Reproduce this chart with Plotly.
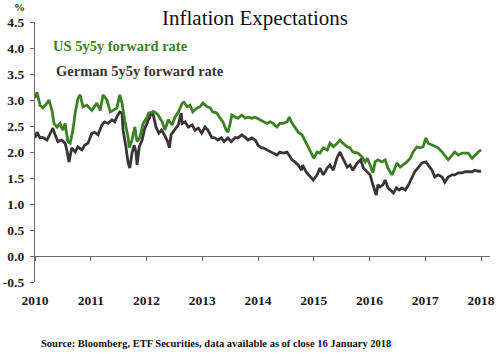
import plotly.graph_objects as go

# decimal-year positions and values
us_t = [2010.00, 2010.036, 2010.09, 2010.14, 2010.215, 2010.25, 2010.305, 2010.34, 2010.395, 2010.45,
        2010.50, 2010.54, 2010.59, 2010.63, 2010.68, 2010.72, 2010.77, 2010.81, 2010.86, 2010.93,
        2011.02, 2011.11, 2011.17, 2011.22, 2011.29, 2011.35, 2011.40, 2011.47, 2011.52, 2011.56,
        2011.61, 2011.67, 2011.69, 2011.74, 2011.79, 2011.83, 2011.88, 2011.94, 2012.01, 2012.04,
        2012.15, 2012.21, 2012.28, 2012.33, 2012.39, 2012.46, 2012.51, 2012.57, 2012.64, 2012.67,
        2012.73, 2012.78, 2012.83, 2012.91, 2012.96, 2013.01, 2013.09, 2013.14, 2013.19, 2013.26,
        2013.32, 2013.37, 2013.43, 2013.46, 2013.50, 2013.53, 2013.59, 2013.64, 2013.71, 2013.77,
        2013.82, 2013.89, 2013.95, 2014.04, 2014.09, 2014.16, 2014.22, 2014.27, 2014.34, 2014.39,
        2014.45, 2014.52, 2014.56, 2014.61, 2014.66, 2014.72, 2014.79, 2014.84, 2014.90, 2014.97,
        2015.00, 2015.06, 2015.11, 2015.17, 2015.24, 2015.29, 2015.35, 2015.42, 2015.47, 2015.52,
        2015.60, 2015.65, 2015.70, 2015.79, 2015.87, 2015.92, 2015.96, 2016.01, 2016.06, 2016.10,
        2016.15, 2016.22, 2016.28, 2016.33, 2016.40, 2016.44, 2016.49, 2016.55, 2016.60, 2016.67,
        2016.73, 2016.78, 2016.85, 2016.91, 2016.96, 2017.01, 2017.05, 2017.12, 2017.17, 2017.23,
        2017.30, 2017.35, 2017.41, 2017.48, 2017.53, 2017.59, 2017.66, 2017.71, 2017.77, 2017.84,
        2017.89, 2017.95, 2018.00]
us_v = [3.04, 3.15, 2.90, 2.85, 2.94, 3.00, 2.80, 2.55, 2.48, 2.55,
        2.42, 2.55, 2.20, 2.17, 2.42, 2.75, 3.03, 3.10, 2.87, 2.90,
        2.80, 2.94, 2.80, 3.10, 3.00, 2.77, 2.80, 2.85, 3.10, 2.94,
        2.60, 2.28, 2.08, 2.23, 2.48, 2.20, 2.28, 2.55, 2.67, 2.75,
        2.77, 2.71, 2.58, 2.42, 2.62, 2.52, 2.67, 2.77, 2.94, 2.96,
        2.87, 2.90, 2.77, 2.85, 2.87, 2.94, 2.87, 2.85, 2.77, 2.75,
        2.65, 2.58, 2.42, 2.38, 2.55, 2.71, 2.67, 2.65, 2.71, 2.65,
        2.67, 2.65, 2.67, 2.62, 2.58, 2.55, 2.58, 2.55, 2.48, 2.55,
        2.55, 2.58, 2.67, 2.55, 2.48, 2.38, 2.33, 2.23, 2.10, 1.94,
        1.88, 2.00, 1.98, 2.08, 2.04, 2.17, 2.10, 2.17, 2.23, 2.17,
        2.10, 2.08, 2.00, 1.98, 1.90, 1.81, 1.88, 1.75, 1.60, 1.81,
        1.85, 1.81, 1.85, 1.69, 1.56, 1.65, 1.79, 1.71, 1.75, 1.81,
        1.88, 2.00, 2.10, 2.08, 2.10, 2.27, 2.17, 2.13, 2.10, 2.08,
        2.00, 1.94, 1.85, 1.94, 2.00, 1.94, 1.98, 1.98, 1.98, 1.88,
        1.94, 2.00, 2.04]

de_t = [2010.00, 2010.036, 2010.09, 2010.14, 2010.215, 2010.27, 2010.32, 2010.36, 2010.41, 2010.48,
        2010.54, 2010.57, 2010.61, 2010.66, 2010.72, 2010.77, 2010.84, 2010.89, 2010.95, 2011.02,
        2011.07, 2011.13, 2011.20, 2011.25, 2011.31, 2011.38, 2011.43, 2011.47, 2011.52, 2011.56,
        2011.58, 2011.63, 2011.67, 2011.70, 2011.74, 2011.78, 2011.81, 2011.83, 2011.87, 2011.92,
        2011.97, 2012.01, 2012.03, 2012.06, 2012.08, 2012.11, 2012.17, 2012.22, 2012.27, 2012.32,
        2012.38, 2012.41, 2012.44, 2012.50, 2012.57, 2012.62, 2012.64, 2012.69, 2012.75, 2012.82,
        2012.87, 2012.93, 2012.99, 2013.05, 2013.10, 2013.17, 2013.23, 2013.28, 2013.34, 2013.39,
        2013.46, 2013.52, 2013.59, 2013.64, 2013.71, 2013.77, 2013.82, 2013.89, 2013.95, 2014.00,
        2014.06, 2014.09, 2014.16, 2014.22, 2014.27, 2014.34, 2014.39, 2014.45, 2014.52, 2014.56,
        2014.61, 2014.66, 2014.72, 2014.78, 2014.80, 2014.86, 2014.91, 2014.99, 2015.06, 2015.11,
        2015.17, 2015.24, 2015.29, 2015.35, 2015.42, 2015.47, 2015.52, 2015.60, 2015.65, 2015.70,
        2015.78, 2015.84, 2015.89, 2015.96, 2016.01, 2016.06, 2016.12, 2016.15, 2016.19, 2016.24,
        2016.28, 2016.33, 2016.40, 2016.43, 2016.48, 2016.53, 2016.58, 2016.64, 2016.70, 2016.76,
        2016.81, 2016.88, 2016.94, 2017.01, 2017.05, 2017.12, 2017.17, 2017.23, 2017.30, 2017.35,
        2017.41, 2017.48, 2017.53, 2017.59, 2017.66, 2017.71, 2017.77, 2017.84, 2017.89, 2017.95,
        2018.00]
de_v = [2.27, 2.38, 2.27, 2.28, 2.23, 2.36, 2.46, 2.33, 2.20, 2.23,
        2.17, 2.04, 1.81, 2.08, 2.00, 2.10, 2.04, 2.13, 2.17, 2.36,
        2.38, 2.33, 2.52, 2.58, 2.55, 2.62, 2.58, 2.68, 2.77, 2.75,
        2.42, 2.10, 1.79, 1.69, 1.98, 2.13, 2.00, 1.75, 2.10, 2.23,
        2.46, 2.55, 2.62, 2.67, 2.75, 2.77, 2.48, 2.36, 2.42, 2.33,
        2.20, 2.08, 2.33, 2.42, 2.52, 2.75, 2.55, 2.58, 2.48, 2.52,
        2.42, 2.46, 2.36, 2.48, 2.42, 2.28, 2.27, 2.23, 2.27, 2.20,
        2.27, 2.20, 2.28, 2.27, 2.33, 2.28, 2.23, 2.27, 2.23, 2.13,
        2.08, 2.08, 2.04, 2.00, 1.98, 1.94, 2.00, 1.98, 2.00, 1.94,
        1.85, 1.81, 1.75, 1.65, 1.75, 1.62, 1.56, 1.46, 1.56, 1.69,
        1.56, 1.69, 1.75, 1.65, 1.90, 2.00, 1.88, 1.71, 1.75, 1.65,
        1.79, 1.85, 1.69, 1.62, 1.56, 1.37, 1.17, 1.37, 1.33, 1.37,
        1.46, 1.31, 1.23, 1.21, 1.31, 1.27, 1.31, 1.27, 1.37, 1.52,
        1.62, 1.71, 1.79, 1.81, 1.75, 1.65, 1.52, 1.56, 1.52, 1.42,
        1.52, 1.56, 1.56, 1.60, 1.60, 1.62, 1.62, 1.62, 1.65, 1.63,
        1.63]

year_ticks = [2010, 2011, 2012, 2013, 2014, 2015, 2016, 2017, 2018]
y_ticks = [-0.5, 0.0, 0.5, 1.0, 1.5, 2.0, 2.5, 3.0, 3.5, 4.0, 4.5]

GREEN = "#3c8125"
DARK = "#3a3434"
AXIS = "#6b6b6b"
SERIF = "Liberation Serif, Times New Roman, serif"

fig = go.Figure()
fig.add_trace(go.Scatter(x=de_t, y=de_v, mode="lines", line=dict(color=DARK, width=2.8),
                         name="German 5y5y forward rate", hoverinfo="skip"))
fig.add_trace(go.Scatter(x=us_t, y=us_v, mode="lines", line=dict(color=GREEN, width=2.8),
                         name="US 5y5y forward rate", hoverinfo="skip"))
# carrier trace for the zero-line axis
fig.add_trace(go.Scatter(x=[2010, 2018], y=[None, None], xaxis="x2", yaxis="y",
                         mode="lines", showlegend=False, hoverinfo="skip"))

fig.update_layout(
    width=500, height=354,
    margin=dict(l=35, r=10, t=22, b=72, autoexpand=False),
    paper_bgcolor="white", plot_bgcolor="white",
    showlegend=False,
    title=dict(text="Inflation Expectations", x=0.51, xref="container", xanchor="center",
               y=1 - 18 / 354, yref="container", yanchor="middle",
               font=dict(family=SERIF, size=21, color="#111111")),
    xaxis=dict(range=[2010, 2018.16], tickvals=year_ticks, ticktext=[str(y) for y in year_ticks],
               showline=False, showgrid=False, zeroline=False, ticks="", automargin=False,
               ticklabelstandoff=8,
               tickfont=dict(family=SERIF, size=13.5, color="#1a1a1a", weight="bold")),
    xaxis2=dict(range=[2010, 2018.16], overlaying="x", anchor="free", position=0.1, side="bottom",
                matches="x", tickvals=year_ticks, showticklabels=False, showline=True,
                linecolor=AXIS, linewidth=1.2, ticks="outside", ticklen=4, tickcolor=AXIS,
                showgrid=False, zeroline=False, automargin=False),
    yaxis=dict(range=[-0.5, 4.5], tickvals=y_ticks, ticktext=[f"{v:.1f}" for v in y_ticks],
               showline=True, linecolor=AXIS, linewidth=1.2, ticks="outside", ticklen=4,
               tickcolor=AXIS, showgrid=False, zeroline=False, ticklabelstandoff=3,
               automargin=False,
               tickfont=dict(family=SERIF, size=13.5, color="#1a1a1a", weight="bold")),
    annotations=[
        dict(text="US 5y5y forward rate", xref="paper", yref="paper", x=0.036, y=0.9077,
             xanchor="left", yanchor="middle", showarrow=False,
             font=dict(family=SERIF, size=14.5, color=GREEN, weight="bold")),
        dict(text="German 5y5y forward rate", xref="paper", yref="paper", x=0.041, y=0.8115,
             xanchor="left", yanchor="middle", showarrow=False,
             font=dict(family=SERIF, size=14.5, color=DARK, weight="bold")),
        dict(text="%", xref="paper", yref="paper", x=-0.033, y=1.058,
             xanchor="center", yanchor="middle", showarrow=False,
             font=dict(family=SERIF, size=11, color="#1a1a1a", weight="bold")),
        dict(text="Source: Bloomberg, ETF Securities, data available as of close 16 January 2018",
             xref="paper", yref="paper", x=0.398, y=-0.238,
             xanchor="center", yanchor="middle", showarrow=False,
             font=dict(family=SERIF, size=10.5, color="#111111", weight="bold")),
    ],
)

fig.write_html("out.html")
